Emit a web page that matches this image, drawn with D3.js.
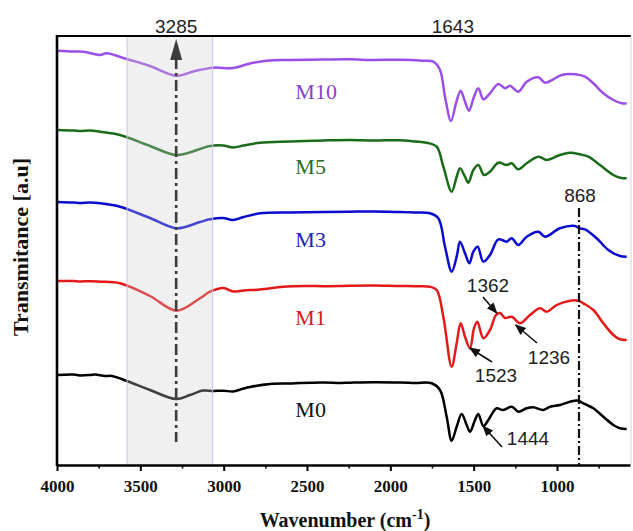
<!DOCTYPE html>
<html><head><meta charset="utf-8">
<script src="https://cdn.jsdelivr.net/npm/d3@7"></script>
<style>
html,body{margin:0;padding:0;background:#fff;}
svg{display:block;}
</style></head>
<body>
<svg id="chart" width="633" height="531"></svg>
<script>
// ---- data (wavenumber cm-1, transmittance a.u.) ----
const seriesNames = ["M0", "M1", "M3", "M5", "M10"];
const seriesColors = ["#000000", "#e31a1a", "#0b0bd0", "#1b6b1b", "#9b4fe6"];
const labelColors = ["#111111", "#d42020", "#2222c4", "#2c6a2c", "#8444c8"];

const M0 = [[4000,90],[3900,90.5],[3862,89.5],[3800,90],[3772,90.5],[3712,89],[3670,89],[3580,84],[3442,75],[3286,66],[3202,70],[3124,74.5],[3064,74],[3000,74.3],[2944,73.5],[2890,76],[2842,78],[2722,81],[2600,81.5],[2542,82],[2400,82.5],[2300,82],[2242,82.3],[2100,82.8],[1942,82.5],[1850,82],[1752,81.7],[1702,75],[1662,48.3],[1632,24.3],[1602,38.3],[1572,51],[1542,40],[1522,33.3],[1492,45],[1472,51],[1442,39],[1412,45],[1382,53.3],[1362,56.7],[1322,55],[1272,58.3],[1232,53.3],[1182,56.7],[1142,57.7],[1082,55],[1042,58.3],[982,60],[922,63.3],[872,64.3],[842,61.7],[782,56.7],[722,48.3],[662,40],[622,36.7],[582,36]];
const M1 = [[4000,184],[3900,184],[3862,183.5],[3800,183.8],[3742,183.3],[3622,181.7],[3442,169],[3282,154.3],[3142,166.7],[3082,173.3],[3002,177],[2942,173.5],[2880,174.5],[2782,175.5],[2642,178.3],[2500,179],[2400,178.8],[2242,179.3],[2100,179.5],[1950,179],[1850,178.8],[1762,178.3],[1722,175],[1682,148.3],[1632,98.3],[1602,121.7],[1578,141.7],[1552,128.3],[1522,116.7],[1498,136.7],[1478,143.3],[1442,126.7],[1402,135],[1366,150],[1342,152],[1312,147],[1272,148.3],[1222,141.7],[1162,150],[1102,156.7],[1062,153.3],[1002,160],[922,164.3],[872,164.3],[842,161.7],[782,155],[722,141.7],[662,130],[622,125.7],[582,125]];
const M3 = [[4000,263],[3900,262.5],[3862,262],[3800,262.5],[3742,261.7],[3622,258.3],[3442,247],[3282,236.7],[3142,243],[3082,245.7],[3004,247],[2944,245],[2880,248],[2782,251.7],[2600,252.5],[2400,253],[2242,253.3],[2100,253.5],[1950,253],[1850,252.5],[1762,251.7],[1712,246.7],[1672,218.3],[1632,193.3],[1602,208.3],[1582,223.3],[1552,211.7],[1526,201.7],[1502,213.3],[1476,218.3],[1442,203.3],[1402,210],[1352,225.7],[1302,223.3],[1272,226.7],[1232,220],[1182,228.3],[1112,233.3],[1072,228.3],[982,236.7],[892,239],[866,236.7],[832,235.7],[762,226.7],[692,215],[622,209],[582,208.3]];
const M5 = [[4000,335],[3900,334.5],[3862,334],[3800,334.5],[3742,333.3],[3622,330],[3442,319],[3282,310],[3142,316],[3082,319],[3004,319.5],[2942,317.5],[2880,319.5],[2782,322.3],[2600,323.5],[2400,324.5],[2242,325],[2100,324.5],[1950,324.8],[1850,323.5],[1782,322.3],[1722,318.3],[1682,298.3],[1632,273.3],[1602,288.3],[1582,296.7],[1552,288.3],[1532,282.3],[1502,295],[1472,300],[1438,290],[1402,293.3],[1352,302.3],[1302,300],[1272,301.7],[1232,295.7],[1182,301.7],[1112,308.3],[1062,305],[982,310],[922,312.3],[862,310.7],[812,308.3],[742,300],[662,290],[622,287.3],[582,286.7]];
const M10 = [[4000,414.3],[3900,413.5],[3840,413.3],[3742,410],[3702,411.7],[3582,406],[3442,399],[3286,389.3],[3172,394],[3062,397.3],[2946,397],[2842,401.5],[2742,404.3],[2600,405],[2400,405.5],[2242,405.7],[2100,405],[1950,405.3],[1802,404.3],[1742,403.3],[1702,395],[1672,368.3],[1636,344],[1606,361.7],[1578,374.3],[1552,363.3],[1528,354.3],[1498,368.3],[1472,376.7],[1442,365.7],[1402,371.7],[1352,381],[1312,376.7],[1282,379.3],[1232,373.3],[1182,383.3],[1112,387.7],[1072,382.3],[1022,385.7],[972,390],[892,390.7],[832,388.3],[782,381.7],[722,371.7],[662,365],[612,361.7],[582,361.7]];
const seriesData = [M0, M1, M3, M5, M10];

const majorTicks = [4000, 3500, 3000, 2500, 2000, 1500, 1000];
const minorTicks = [3750, 3250, 2750, 2250, 1750, 1250, 750];
const bandRange = [3580, 3066];
const markerLines = [3285, 868];
const topLabels = ["3285", "1643"];
const topLabelValues = [3285, 1643];
const peakLabels = ["1362", "1236", "1523", "1444"];
const peakValues = [1362, 1236, 1523, 1444];

// ---- layout ----
const svg = d3.select("#chart");
const L = 57, R = 630, T = 36, B = 465;
const x = d3.scaleLinear().domain([4000, 562]).range([L, R]);
const y = d3.scaleLinear().domain([0, 429]).range([B, T]);
const serif = "'Liberation Serif','Times New Roman',serif";
const sans = "'Liberation Sans',Arial,sans-serif";

// curves
const line = d3.line().x(d => x(d[0])).y(d => y(d[1])).curve(d3.curveCatmullRom.alpha(0.5));
svg.append("g").selectAll("path").data(seriesData).join("path")
  .attr("d", line).attr("fill", "none")
  .attr("stroke", (d, i) => seriesColors[i]).attr("stroke-width", 2.5)
  .attr("stroke-linejoin", "round");

// grey band overlay
svg.append("rect").attr("x", x(bandRange[0])).attr("y", T + 1)
  .attr("width", x(bandRange[1]) - x(bandRange[0])).attr("height", B - T - 1)
  .attr("fill", "rgb(205,205,210)").attr("fill-opacity", 0.3);
bandRange.forEach(v => svg.append("line").attr("x1", x(v)).attr("x2", x(v))
  .attr("y1", T).attr("y2", B).attr("stroke", "#cbc3dc").attr("stroke-width", 1));

// series labels
const labelY = [410, 318, 240, 167, 92];
svg.append("g").selectAll("text").data(seriesNames).join("text")
  .attr("x", x(2570)).attr("y", (d, i) => labelY[i] + 7)
  .attr("font-family", serif).attr("font-size", 22)
  .attr("fill", (d, i) => labelColors[i]).text(d => d);

// 3285 dash-dot line with arrow
svg.append("line").attr("x1", x(markerLines[0])).attr("x2", x(markerLines[0]))
  .attr("y1", 58).attr("y2", 442).attr("stroke", "#3c3c3c").attr("stroke-width", 2.6)
  .attr("stroke-dasharray", "11,4,3,4");
svg.append("path").attr("d", `M${x(markerLines[0])},39 L${x(markerLines[0]) - 6},60 L${x(markerLines[0]) + 6},60 Z`)
  .attr("fill", "#3c3c3c");

// 868 dash-dot line
svg.append("line").attr("x1", x(markerLines[1])).attr("x2", x(markerLines[1]))
  .attr("y1", 208).attr("y2", B).attr("stroke", "#111").attr("stroke-width", 2.2)
  .attr("stroke-dasharray", "9,3,2,3");
svg.append("text").attr("x", x(markerLines[1]) + 1).attr("y", 202)
  .attr("text-anchor", "middle").attr("font-family", sans).attr("font-size", 19)
  .attr("fill", "#222").text("868");

// top labels
svg.append("g").selectAll("text").data(topLabels).join("text")
  .attr("x", (d, i) => x(topLabelValues[i]) + (i ? 3 : 0)).attr("y", 33)
  .attr("text-anchor", "middle").attr("font-family", sans).attr("font-size", 19)
  .attr("fill", "#222").text(d => d);

// peak annotations (arrows)
const defs = svg.append("defs");
defs.append("marker").attr("id", "ah").attr("viewBox", "0 0 10 10").attr("refX", 9).attr("refY", 5)
  .attr("markerWidth", 7).attr("markerHeight", 7).attr("orient", "auto")
  .append("path").attr("d", "M0,1 L10,5 L0,9 Z").attr("fill", "#111");
const arrowFrom = [[483, 297], [537, 343], [492, 362], [502, 447]];
const arrowToY = [313, 325, 348, 426];
const textPos = [[488, 292], [549, 364], [496, 382], [528, 445]];
peakLabels.forEach((lab, i) => {
  svg.append("line").attr("x1", arrowFrom[i][0]).attr("y1", arrowFrom[i][1])
    .attr("x2", x(peakValues[i]) + (i === 1 ? -2 : 0)).attr("y2", arrowToY[i])
    .attr("stroke", "#111").attr("stroke-width", 1.6).attr("marker-end", "url(#ah)");
  svg.append("text").attr("x", textPos[i][0]).attr("y", textPos[i][1])
    .attr("text-anchor", "middle").attr("font-family", sans).attr("font-size", 19)
    .attr("fill", "#222").text(lab);
});

// frame
svg.append("line").attr("x1", L).attr("x2", R + 1).attr("y1", T).attr("y2", T)
  .attr("stroke", "#000").attr("stroke-width", 2);
svg.append("line").attr("x1", R + 1).attr("x2", R + 1).attr("y1", T).attr("y2", B)
  .attr("stroke", "#d4d4d4").attr("stroke-width", 1);
svg.append("line").attr("x1", L).attr("x2", L).attr("y1", T - 1).attr("y2", B + 1)
  .attr("stroke", "#000").attr("stroke-width", 2.6);

// x axis
const gx = svg.append("g").attr("transform", `translate(0,${B})`)
  .call(d3.axisBottom(x).tickValues(majorTicks).tickSize(6).tickSizeOuter(0).tickFormat(d3.format("d")));
gx.select(".domain").attr("stroke-width", 2.6);
gx.selectAll(".tick line").attr("stroke-width", 2);
gx.selectAll(".tick text").attr("font-family", serif).attr("font-weight", "bold")
  .attr("font-size", 17).attr("fill", "#111").attr("dy", "1.05em");
const gm = svg.append("g").attr("transform", `translate(0,${B})`)
  .call(d3.axisBottom(x).tickValues(minorTicks).tickSize(3.5).tickFormat(""));
gm.select(".domain").remove();
gm.selectAll(".tick line").attr("stroke-width", 1.6);

// axis titles
const xt = svg.append("text").attr("x", 345).attr("y", 527).attr("text-anchor", "middle")
  .attr("font-family", serif).attr("font-weight", "bold").attr("font-size", 20).attr("fill", "#111");
xt.append("tspan").text("Wavenumber (cm");
xt.append("tspan").attr("dy", -8).attr("font-size", 14).text("-1");
xt.append("tspan").attr("dy", 8).text(")");
svg.append("text").attr("transform", "translate(28,247) rotate(-90)").attr("text-anchor", "middle")
  .attr("font-family", serif).attr("font-weight", "bold").attr("font-size", 22).attr("fill", "#111")
  .text("Transmitance [a.u]");
</script>
</body></html>
